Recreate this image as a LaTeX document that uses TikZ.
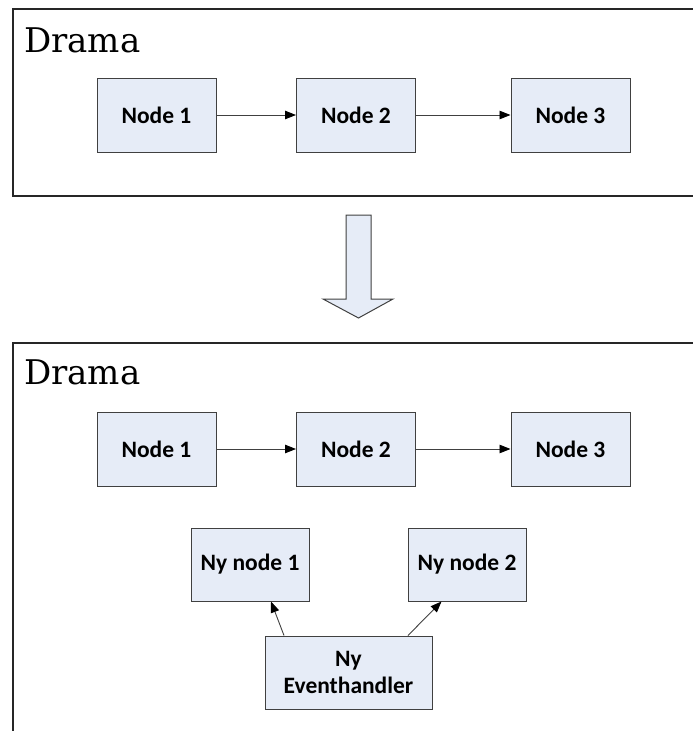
\documentclass[tikz,border=0pt]{standalone}
\usepackage{fontspec}
\newfontfamily\boxfont{Carlito}
\newfontfamily\titlefont{DejaVu Serif}
\usepackage{tikz}
\usetikzlibrary{arrows.meta,positioning}
\definecolor{boxfill}{RGB}{230,236,247}
\definecolor{boxline}{RGB}{64,64,64}

\begin{document}
\begin{tikzpicture}[
      x=1pt, y=-1pt, on grid,
      >={Triangle[length=11pt,width=8.5pt,color=black]},
      blok/.style={rectangle, draw=boxline, fill=boxfill, line width=1pt, minimum width=119pt, minimum height=74pt, align=center,
                   font=\boxfont\bfseries\fontsize{23.5}{27}\selectfont},
      title/.style={anchor=base west, inner sep=0pt, font=\titlefont\fontsize{34}{40}\selectfont},
      frame/.style={draw=black!85, line width=1.2pt},
      link/.style={->, draw=black!75, line width=0.9pt}]

      \useasboundingbox (0,0) rectangle (693,731);

      % Frames
      \draw[frame] (693,9) -- (13,9) -- (13,196) -- (693,196);
      \draw[frame] (693,343) -- (13,343) -- (13,731);
      \node[title] (drama1) at (24,52) {Drama};
      \node[title] (drama2) at (24,384) {Drama};

      % Nodes
      \node[blok] (n1) at (156.5,115) {Node 1};
      \node[blok, right=199.5pt of n1] (n2) {Node 2};
      \node[blok, right=214.5pt of n2] (n3) {Node 3};

      \node[blok] (m1) at (156.5,449) {Node 1};
      \node[blok, right=199.5pt of m1] (m2) {Node 2};
      \node[blok, right=214.5pt of m2] (m3) {Node 3};

      \node[blok, minimum width=118pt, minimum height=73pt] (ny1) at (250,564.5) {Ny node 1};
      \node[blok, minimum width=118pt, minimum height=73pt, right=217pt of ny1] (ny2) {Ny node 2};
      \node[blok, minimum width=167pt, minimum height=73pt] (eh) at (348.5,672.5) {Ny\\Eventhandler};

      % Edges
      \draw[link] (n1) -- (n2);
      \draw[link] (n2) -- (n3);
      \draw[link] (m1) -- (m2);
      \draw[link] (m2) -- (m3);
      \draw[link] ([xshift=-64.5pt]eh.north) -- ([xshift=21pt]ny1.south);
      \draw[link] ([xshift=59.5pt]eh.north) -- ([xshift=-25.5pt]ny2.south);

      % Big arrow
      \draw[boxline, fill=boxfill, line width=1pt, line join=miter]
            (346,215) -- (371,215) -- (371,299) -- (393,299) -- (358.5,318)
            -- (323,299) -- (346,299) -- cycle;

\end{tikzpicture}
\end{document}
